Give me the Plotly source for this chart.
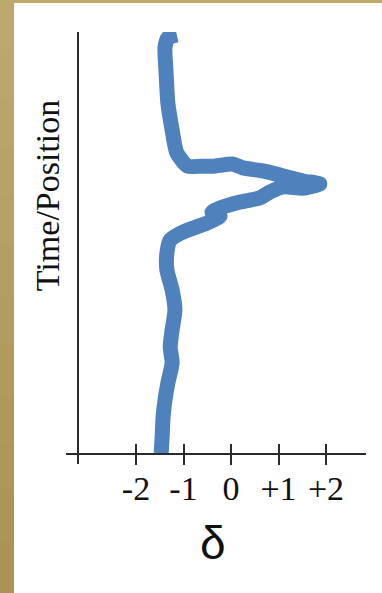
import plotly.graph_objects as go

# delta deviation (x) traced along time/position (y, 0 = bottom, 100 = top)
delta = [-1.14, -1.33, -1.39, -1.37, -1.33, -1.24, -1.14, -0.91, -0.65, -0.38,
         0.04, 0.25, 0.67, 1.10, 1.52, 1.87, 1.52, 1.10, 0.82, 0.61,
         0.19, -0.23, -0.40, -0.23, -0.51, -1.01, -1.28, -1.35, -1.35, -1.24,
         -1.18, -1.24, -1.28, -1.24, -1.33, -1.39, -1.43, -1.45, -1.47]
position = [99.3, 98.6, 96.4, 91.0, 83.2, 76.8, 71.3, 68.2, 68.2, 68.2,
            68.7, 67.8, 67.1, 65.9, 64.7, 64.0, 63.0, 63.3, 62.1, 60.7,
            59.7, 58.3, 57.3, 56.4, 54.7, 52.6, 50.7, 47.6, 43.6, 38.9,
            34.1, 29.4, 25.4, 21.6, 16.8, 12.8, 8.8, 4.0, 0.2]

tick_vals = [-2, -1, 0, 1, 2]
tick_text = ["-2", "-1", "0", "+1", "+2"]

x_range = [-3.474, 2.842]
y_range = [-2.37, 100]
axis_color = "#2b2b2b"
serif = "Liberation Serif, Times New Roman, serif"

fig = go.Figure()
fig.add_trace(go.Scatter(
    x=delta, y=position, mode="lines",
    line=dict(color="#4F81BD", width=15, shape="spline", smoothing=0.6),
    hoverinfo="skip", showlegend=False,
))
# empty trace so the overlay axis (upper half of the crossing ticks) is drawn
fig.add_trace(go.Scatter(x=[None], y=[None], xaxis="x2", showlegend=False,
                         hoverinfo="skip"))

common_x = dict(range=x_range, tickvals=tick_vals, showgrid=False,
                zeroline=False, anchor="free", position=0.02315,
                tickwidth=2, tickcolor=axis_color, ticklen=10)

fig.update_layout(
    width=382, height=593,
    margin=dict(l=66, r=16, t=32, b=129, pad=0),
    paper_bgcolor="white", plot_bgcolor="white",
    xaxis=dict(**common_x, ticks="outside", ticktext=tick_text,
               showline=True, linewidth=2, linecolor=axis_color,
               tickfont=dict(family=serif, size=34, color="#111"),
               ticklabelstandoff=-6),
    xaxis2=dict(**common_x, overlaying="x", ticks="inside",
                showline=False, showticklabels=False),
    yaxis=dict(range=y_range, anchor="free", position=0.04,
               showline=True, linewidth=2, linecolor=axis_color,
               showgrid=False, zeroline=False, ticks="",
               showticklabels=False),
    annotations=[
        dict(text="Time/Position", textangle=-90, xref="paper", yref="paper",
             x=-0.0633, y=0.62, xanchor="center", yanchor="middle",
             showarrow=False,
             font=dict(family=serif, size=34, color="#111")),
        dict(text="δ", xref="paper", yref="paper", x=0.49, y=-0.183,
             xanchor="center", yanchor="middle", showarrow=False,
             font=dict(family="Liberation Sans, Arial, sans-serif", size=46,
                       color="#111")),
    ],
)

# tan frame along the left and top edges (light at top, darker below)
n_bands = 12
top_rgb = (189, 168, 110)
bot_rgb = (171, 146, 87)
px_w, px_h = 300.0, 432.0
for i in range(n_bands):
    t = i / (n_bands - 1)
    rgb = tuple(round(a + (b - a) * t) for a, b in zip(top_rgb, bot_rgb))
    y_hi_px = 593 * i / n_bands - 1
    y_lo_px = 593 * (i + 1) / n_bands + 1
    fig.add_shape(type="rect", xref="paper", yref="paper", layer="above",
                  x0=-70 / px_w, x1=(14 - 66) / px_w,
                  y0=(464 - y_lo_px) / px_h, y1=(464 - y_hi_px) / px_h,
                  fillcolor="rgb(%d,%d,%d)" % rgb, line=dict(width=0))
fig.add_shape(type="rect", xref="paper", yref="paper", layer="above",
              x0=-70 / px_w, x1=320 / px_w,
              y0=(464 - 3) / px_h, y1=468 / px_h,
              fillcolor="rgb(189,168,110)", line=dict(width=0))

fig.write_html("out.html")
